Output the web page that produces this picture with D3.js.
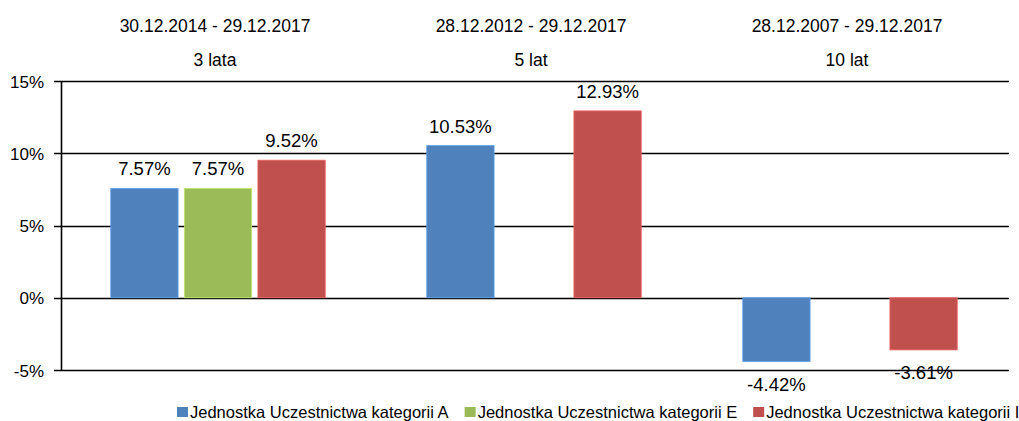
<!DOCTYPE html>
<html>
<head>
<meta charset="utf-8">
<script src="https://cdn.jsdelivr.net/npm/d3@7"></script>
<style>
  html, body { margin: 0; padding: 0; background: #fff; }
  svg { display: block; font-family: "Liberation Sans", Arial, sans-serif; }
</style>
</head>
<body>
<svg id="chart" width="1019" height="421"></svg>
<script>
// Okresy i horyzonty stóp zwrotu
const periods = ["30.12.2014 - 29.12.2017", "28.12.2012 - 29.12.2017", "28.12.2007 - 29.12.2017"];
const horizons = ["3 lata", "5 lat", "10 lat"];

// Serie: jednostki uczestnictwa
const seriesNames = [
  "Jednostka Uczestnictwa kategorii A",
  "Jednostka Uczestnictwa kategorii E",
  "Jednostka Uczestnictwa kategorii I"
];
const seriesColors = ["#4F81BD", "#9BBB59", "#C0504D"];
const valuesA = [7.57, 10.53, -4.42];
const valuesE = [7.57, null, null];
const valuesI = [9.52, 12.93, -3.61];

const yTicks = [-5, 0, 5, 10, 15];

(function draw() {
  const svg = d3.select("#chart");
  const plotLeft = 61, plotRight = 1009, plotTop = 81, plotBottom = 370;

  const y = d3.scaleLinear().domain([-5, 15]).range([plotBottom, plotTop]);
  const x0 = d3.scaleBand().domain(periods).range([plotLeft - 1, plotRight - 1]).paddingInner(0).paddingOuter(0);
  const x1 = d3.scaleBand().domain(seriesNames).range([0, x0.bandwidth()])
    .paddingInner(0.085).paddingOuter(0.69);

  // Siatka pozioma
  svg.append("g")
    .selectAll("line")
    .data(yTicks)
    .join("line")
    .attr("x1", plotLeft - 7)
    .attr("x2", plotRight)
    .attr("y1", d => Math.round(y(d)) + 0.5)
    .attr("y2", d => Math.round(y(d)) + 0.5)
    .attr("stroke", "#000")
    .attr("stroke-width", 1.6);

  // Oś Y
  const yAxis = d3.axisLeft(y).tickValues(yTicks).tickSize(0).tickPadding(17)
    .tickFormat(d => d + "%");
  const gy = svg.append("g").attr("transform", `translate(${plotLeft},0)`).call(yAxis);
  gy.select(".domain").remove();
  gy.selectAll("text")
    .attr("font-size", 17)
    .attr("fill", "#000")
    .attr("font-family", "Liberation Sans, Arial, sans-serif")
    .attr("dy", "0.36em");
  svg.append("line")
    .attr("x1", plotLeft + 0.5).attr("x2", plotLeft + 0.5)
    .attr("y1", plotTop).attr("y2", plotBottom + 1)
    .attr("stroke", "#000").attr("stroke-width", 1.6);

  // Nagłówki kategorii
  const heads = svg.append("g").selectAll("g").data(periods).join("g")
    .attr("transform", d => `translate(${x0(d) + x0.bandwidth() / 2 - 3},0)`);
  heads.append("text")
    .attr("y", 32).attr("text-anchor", "middle").attr("font-size", 17.5).attr("fill", "#000")
    .text(d => d);
  heads.append("text")
    .attr("y", 66).attr("text-anchor", "middle").attr("font-size", 17.5).attr("fill", "#000")
    .text((d, i) => horizons[i]);

  // Słupki
  const allSeries = [valuesA, valuesE, valuesI];
  const barData = [];
  periods.forEach((p, i) => {
    allSeries.forEach((vals, s) => {
      if (vals[i] !== null) barData.push({ period: p, series: seriesNames[s], color: seriesColors[s], value: vals[i] });
    });
  });

  const bars = svg.append("g").selectAll("g").data(barData).join("g");
  bars.append("rect")
    .attr("x", d => x0(d.period) + x1(d.series))
    .attr("width", x1.bandwidth())
    .attr("y", d => y(Math.max(0, d.value)))
    .attr("height", d => Math.abs(y(d.value) - y(0)))
    .attr("fill", d => d.color)
    .attr("stroke", d => d3.color(d.color).brighter(0.6))
    .attr("stroke-width", 0.8);

  // Etykiety wartości
  bars.append("text")
    .attr("x", d => x0(d.period) + x1(d.series) + x1.bandwidth() / 2)
    .attr("y", d => d.value >= 0 ? y(d.value) - 13 : y(d.value) + 29)
    .attr("text-anchor", "middle")
    .attr("font-size", 18.5)
    .attr("fill", "#000")
    .text(d => d.value.toFixed(2) + "%");

  // Legenda
  const legend = svg.append("g");
  let lx = 177;
  seriesNames.forEach((name, i) => {
    legend.append("rect")
      .attr("x", lx).attr("y", 407).attr("width", 11).attr("height", 10)
      .attr("fill", seriesColors[i]);
    const t = legend.append("text")
      .attr("x", lx + 13).attr("y", 418)
      .attr("font-size", 16.5).attr("fill", "#000")
      .text(name);
    lx += 13 + t.node().getComputedTextLength() + 16;
  });
})();
</script>
</body>
</html>
